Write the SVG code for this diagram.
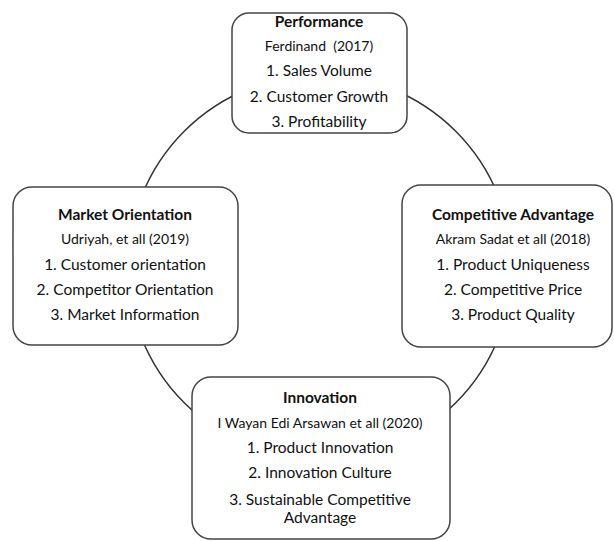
<svg xmlns="http://www.w3.org/2000/svg" width="614" height="541" viewBox="0 0 614 541">
<style>
.box{fill:#fff;stroke:#444;stroke-width:1.5}
.ring{fill:none;stroke:#333;stroke-width:1.5}
text{font-family:Lato,"Open Sans","Liberation Sans",sans-serif;fill:#111;text-anchor:middle}
.t{font-weight:bold;font-size:15.5px}
.a{font-size:14px}
.i{font-size:15.5px}
</style>
<rect width="614" height="541" fill="#fff"/>
<g id="connectors">
<circle class="ring" cx="320" cy="267" r="192"/>
</g>
<g id="performance">
<rect class="box" x="232" y="13" width="175" height="120" rx="17"/>
<text class="t" x="319" y="27">Performance</text>
<text class="a" x="319" y="51">Ferdinand&#160; (2017)</text>
<text class="i" x="319" y="76">1. Sales Volume</text>
<text class="i" x="319" y="102">2. Customer Growth</text>
<text class="i" x="319" y="127">3. Profitability</text>
</g>
<g id="market-orientation">
<rect class="box" x="13" y="187" width="225" height="158" rx="19"/>
<text class="t" x="125" y="220">Market Orientation</text>
<text class="a" x="125" y="244">Udriyah, et all (2019)</text>
<text class="i" x="125" y="270">1. Customer orientation</text>
<text class="i" x="125" y="295">2. Competitor Orientation</text>
<text class="i" x="125" y="320">3. Market Information</text>
</g>
<g id="competitive-advantage">
<rect class="box" x="402" y="185" width="210" height="162" rx="19"/>
<text class="t" x="513" y="220">Competitive Advantage</text>
<text class="a" x="513" y="244">Akram Sadat et all (2018)</text>
<text class="i" x="513" y="270">1. Product Uniqueness</text>
<text class="i" x="513" y="295">2. Competitive Price</text>
<text class="i" x="513" y="320">3. Product Quality</text>
</g>
<g id="innovation">
<rect class="box" x="192" y="377" width="258" height="162" rx="19"/>
<text class="t" x="320" y="403">Innovation</text>
<text class="a" x="320" y="428">I Wayan Edi Arsawan et all (2020)</text>
<text class="i" x="320" y="453">1. Product Innovation</text>
<text class="i" x="320" y="478">2. Innovation Culture</text>
<text class="i" x="320" y="505">3. Sustainable Competitive</text>
<text class="i" x="320" y="523">Advantage</text>
</g>
</svg>
